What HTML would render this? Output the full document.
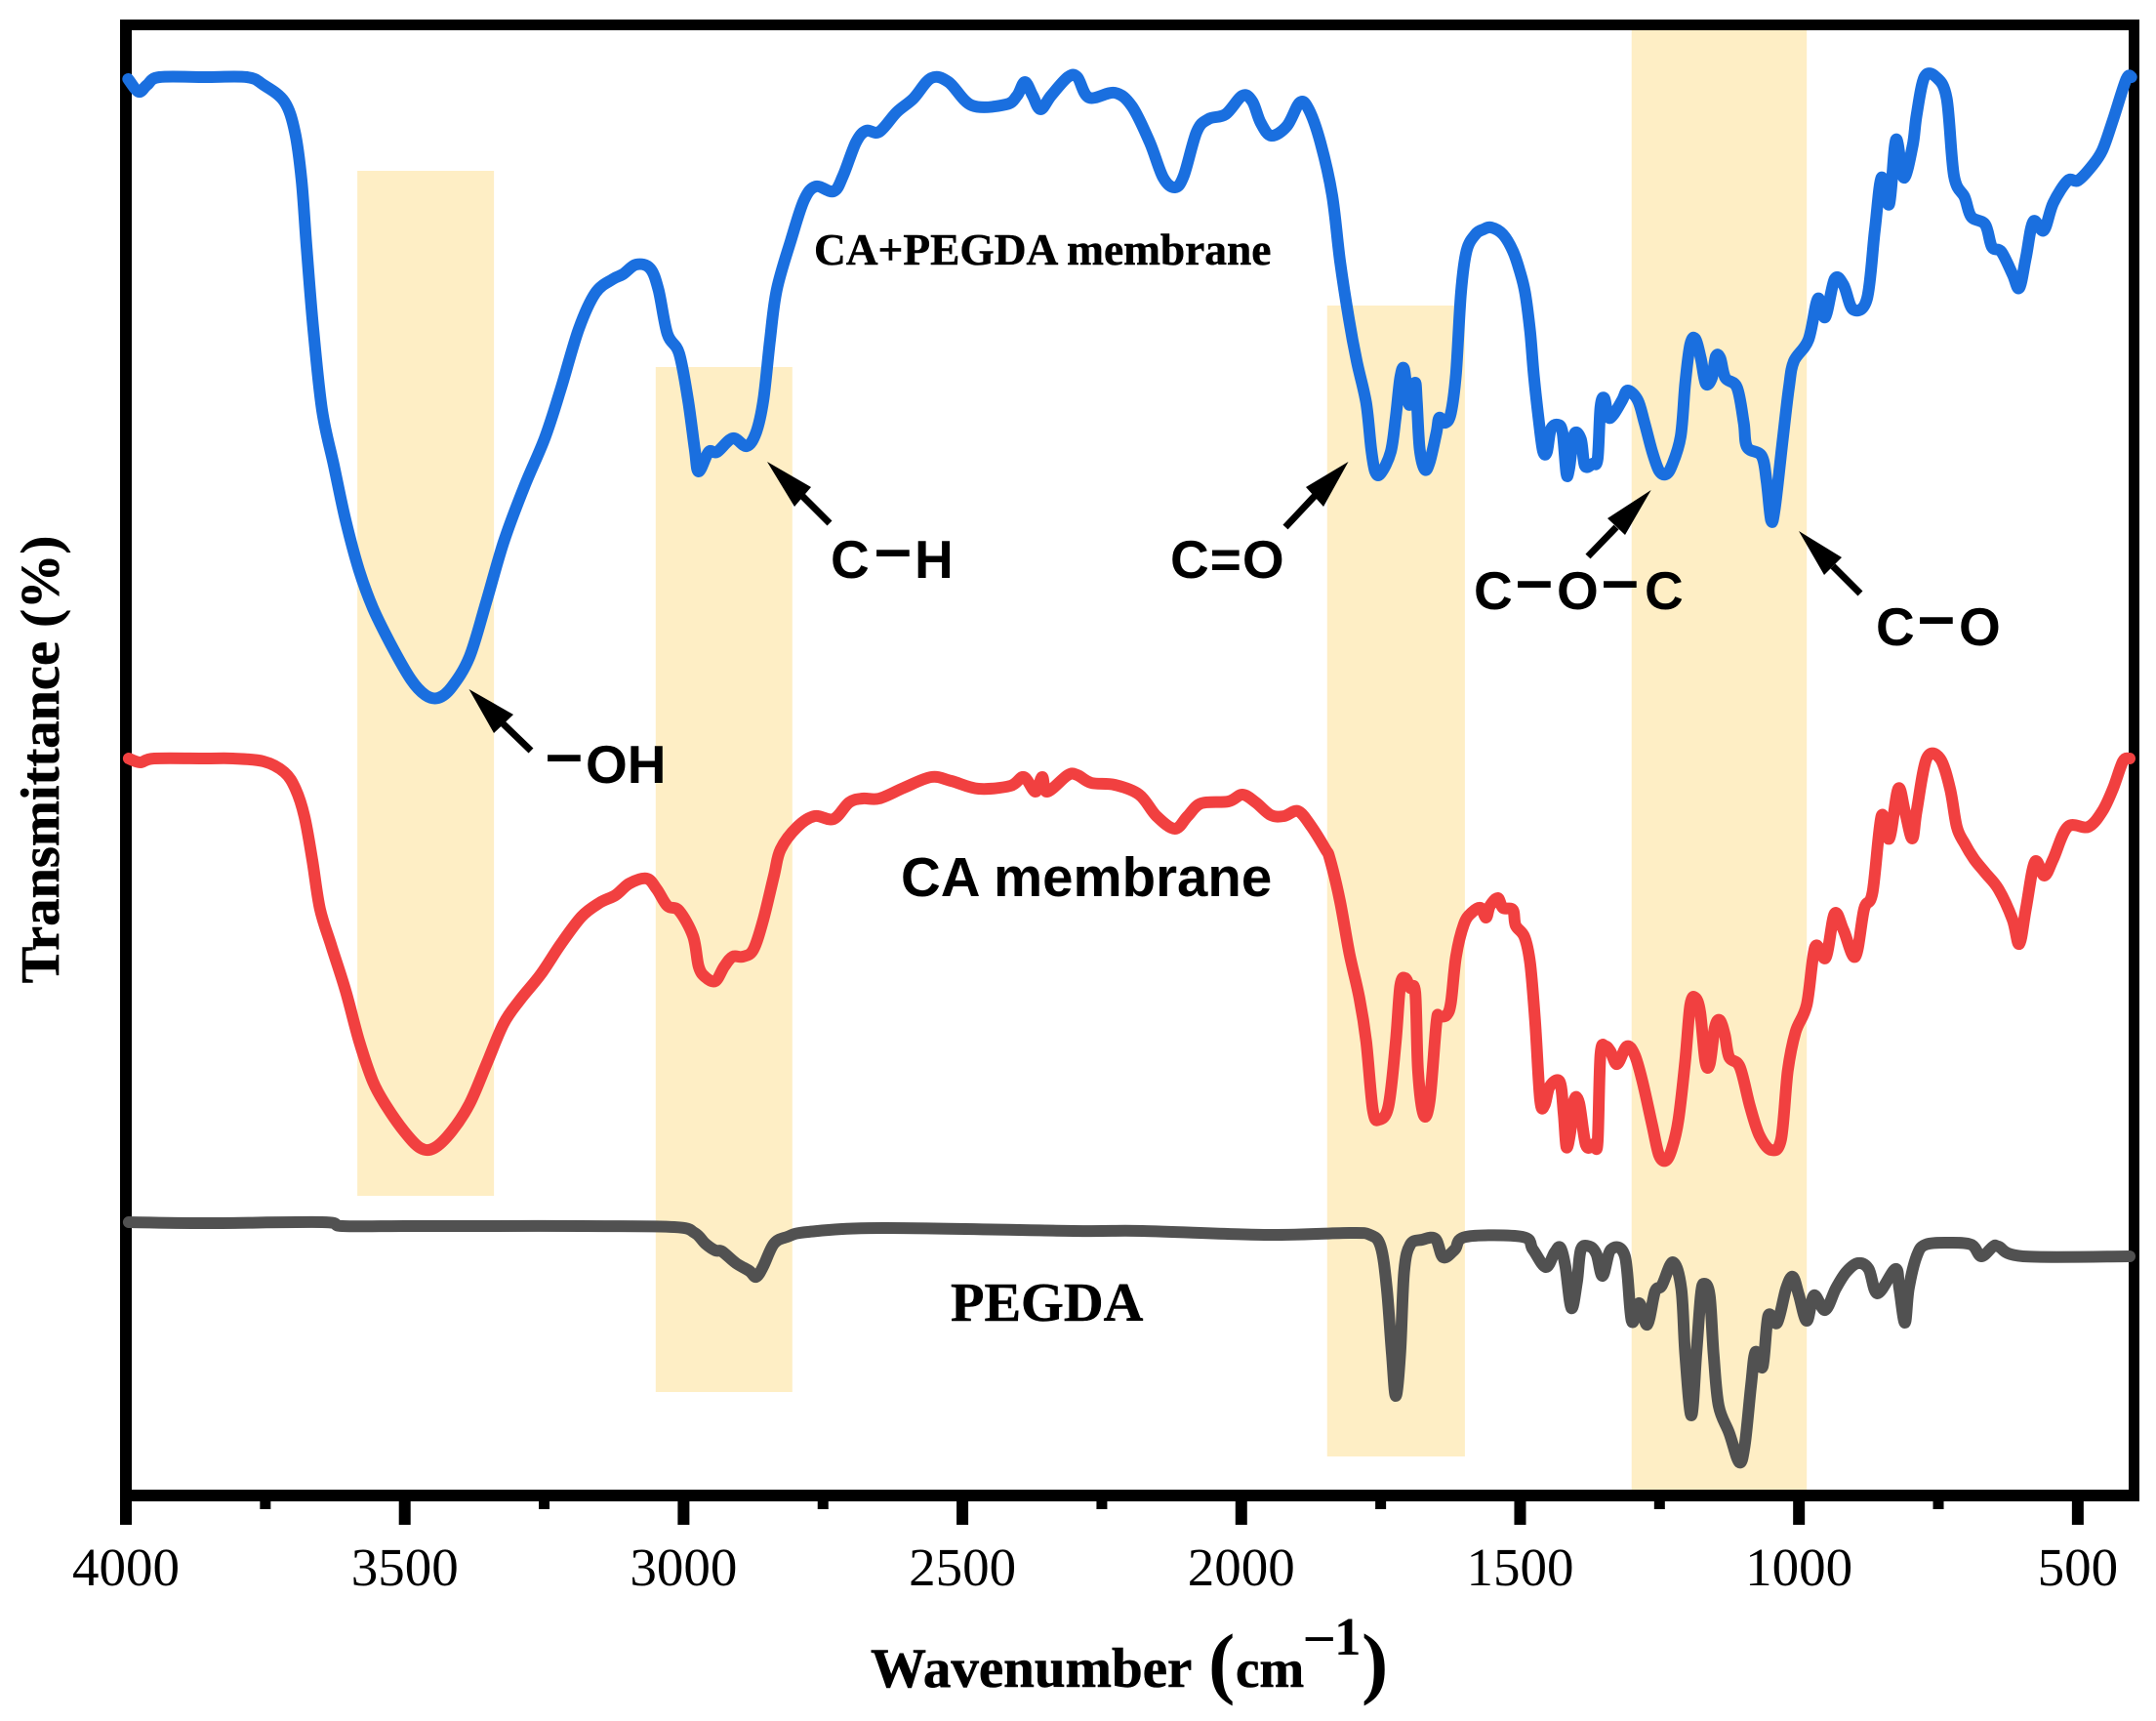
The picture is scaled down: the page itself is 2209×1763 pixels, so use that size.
<!DOCTYPE html>
<html lang="en">
<head>
<meta charset="utf-8">
<title>FTIR spectra</title>
<style>
html,body{margin:0;padding:0;background:#fff;width:2209px;height:1763px;overflow:hidden}
svg{display:block}
.serif{font-family:"Liberation Serif",serif}
.sans{font-family:"Liberation Sans",sans-serif;font-weight:700}
.bold{font-weight:700}
.atom{font-family:"Liberation Sans",sans-serif;font-weight:700;font-size:55px;fill:#000}
.bond{font-family:"Liberation Sans",sans-serif;font-weight:700;font-size:68px;fill:#000}
</style>
</head>
<body>
<svg id="chart" xmlns="http://www.w3.org/2000/svg" width="2209" height="1763" viewBox="0 0 2209 1763">
  <rect x="0" y="0" width="2209" height="1763" fill="#ffffff"/>
  <g id="bands"></g>
  <g id="frame">
    <rect x="123" y="20" width="12" height="1542" fill="#000"/>
    <rect x="123" y="20" width="2069" height="11" fill="#000"/>
    <rect x="2181" y="20" width="11" height="1518" fill="#000"/>
    <rect x="123" y="1526" width="2069" height="12" fill="#000"/>
  </g>
  <g id="ticks"></g>
  <g id="series"></g>

  <text class="serif bold" font-size="56.5" text-anchor="middle" stroke="#000" stroke-width="0.6" transform="translate(60 778) rotate(-90)">Transmittance (%)</text>
  <g class="serif bold" fill="#000">
    <text x="892" y="1728" font-size="57" stroke="#000" stroke-width="0.6">Wavenumber</text>
    <text x="1238" y="1730" font-size="82">(</text>
    <text x="1266" y="1728" font-size="55" stroke="#000" stroke-width="0.6">cm</text>
    <text x="1338" y="1692" font-size="55">–</text>
    <text x="1367" y="1695" font-size="55">1</text>
    <text x="1395" y="1730" font-size="82">)</text>
  </g>

  <text class="serif bold" x="834" y="271" font-size="45.4" stroke="#000" stroke-width="0.5">CA+PEGDA membrane</text>
  <text class="sans" x="923" y="918" font-size="56.4">CA membrane</text>
  <text class="serif bold" x="974" y="1353" font-size="56.4" stroke="#000" stroke-width="0.5">PEGDA</text>

  <g>
    <line x1="544" y1="769" x2="515" y2="741" stroke="#000" stroke-width="7"/>
    <polygon points="480.5,706 526,732 506,751" fill="#000"/>
    <text class="bond" x="559" y="795">–</text>
    <text class="atom" x="600" y="802">OH</text>
  </g>
  <g>
    <line x1="850" y1="536" x2="822" y2="508" stroke="#000" stroke-width="7"/>
    <polygon points="786,473 831,499 814,519" fill="#000"/>
    <text class="atom" x="851" y="592">C</text>
    <text class="bond" x="896" y="585">–</text>
    <text class="atom" x="937" y="592">H</text>
  </g>
  <g>
    <line x1="1317" y1="540" x2="1347" y2="508" stroke="#000" stroke-width="7"/>
    <polygon points="1381.5,473 1338,499 1356,519" fill="#000"/>
    <text class="atom" x="1199" y="592" letter-spacing="1">C=O</text>
  </g>
  <g>
    <line x1="1627" y1="570" x2="1656" y2="540" stroke="#000" stroke-width="7"/>
    <polygon points="1691.7,502 1647,531 1665,548" fill="#000"/>
    <text class="atom" x="1510" y="624">C</text>
    <text class="bond" x="1553" y="617">–</text>
    <text class="atom" x="1595" y="624">O</text>
    <text class="bond" x="1641" y="617">–</text>
    <text class="atom" x="1685" y="624">C</text>
  </g>
  <g>
    <line x1="1906" y1="608" x2="1878" y2="580" stroke="#000" stroke-width="7"/>
    <polygon points="1843,544 1887,571 1869,589" fill="#000"/>
    <text class="atom" x="1922" y="661">C</text>
    <text class="bond" x="1965" y="654">–</text>
    <text class="atom" x="2007" y="661">O</text>
  </g>
</svg>

<script>
// ---- Data (wavenumber in cm-1, transmittance in arbitrary offset units) ----
const majorTicks = [4000, 3500, 3000, 2500, 2000, 1500, 1000, 500];
const minorTicks = [3750, 3250, 2750, 2250, 1750, 1250, 750];
const tickLabels = ["4000", "3500", "3000", "2500", "2000", "1500", "1000", "500"];

const bandHighWavenumber = [3585, 3050, 1846, 1300];
const bandLowWavenumber = [3340, 2805, 1599, 986];
const bandTopValue = [1357, 1156, 1219, 1501];
const bandBottomValue = [307, 106, 40, 6];

const caPegdaWavenumber = [3996,3977,3962,3940,3858,3783,3753,3716,3697,3685,3676,3664,3648,3627,3606,3582,3557,3526,3489,3463,3440,3416,3384,3354,3323,3286,3249,3220,3188,3158,3127,3109,3085,3060,3045,3029,3008,2992,2980,2973,2955,2940,2912,2887,2870,2857,2845,2833,2808,2784,2763,2731,2714,2691,2673,2649,2618,2588,2556,2525,2483,2422,2402,2388,2374,2360,2341,2311,2294,2273,2227,2196,2164,2140,2119,2103,2080,2059,2028,1998,1980,1965,1946,1918,1895,1879,1858,1837,1823,1807,1793,1776,1767,1760,1750,1732,1723,1715,1708,1701,1695,1688,1685,1680,1671,1662,1650,1645,1634,1624,1615,1606,1596,1580,1566,1552,1531,1513,1501,1491,1482,1475,1466,1459,1452,1445,1433,1424,1417,1412,1403,1391,1384,1370,1361,1356,1349,1342,1333,1317,1307,1289,1277,1263,1251,1239,1228,1212,1204,1195,1186,1176,1167,1156,1149,1141,1132,1111,1099,1093,1067,1058,1050,1043,1029,1018,1009,983,966,953,936,920,903,878,864,852,838,826,812,796,789,775,754,735,722,703,691,666,654,637,617,605,593,580,561,544,518,500,476,456,437,413,404];
const caPegdaValue = [1451,1438,1445,1453,1453,1453,1445,1428,1397,1347,1279,1195,1111,1055,999,948,909,873,836,820,817,828,859,915,976,1033,1083,1134,1195,1232,1246,1251,1261,1257,1235,1190,1170,1122,1072,1049,1069,1069,1083,1075,1089,1122,1184,1235,1285,1327,1341,1336,1352,1386,1398,1397,1417,1431,1452,1448,1424,1425,1434,1448,1434,1420,1434,1453,1453,1432,1437,1423,1386,1350,1340,1352,1397,1410,1415,1434,1428,1406,1393,1403,1427,1420,1386,1332,1265,1205,1162,1119,1072,1049,1047,1069,1105,1145,1154,1121,1120,1140,1119,1072,1051,1059,1089,1104,1099,1109,1149,1232,1275,1292,1297,1299,1292,1275,1255,1232,1192,1145,1099,1070,1069,1092,1097,1089,1047,1052,1087,1082,1055,1057,1062,1115,1124,1105,1107,1122,1132,1122,1099,1069,1050,1046,1055,1085,1139,1179,1185,1165,1139,1145,1167,1165,1145,1135,1099,1074,1065,1039,999,1012,1082,1135,1162,1184,1226,1207,1246,1240,1215,1226,1296,1350,1323,1389,1350,1383,1414,1453,1453,1431,1352,1330,1310,1302,1279,1274,1251,1237,1268,1305,1296,1324,1347,1347,1361,1378,1409,1451,1453];

const caWavenumber = [3995,3974,3949,3858,3808,3753,3716,3696,3680,3666,3652,3631,3606,3582,3557,3533,3501,3472,3447,3416,3384,3354,3323,3293,3256,3220,3183,3151,3122,3097,3066,3048,3029,3008,2983,2973,2961,2943,2927,2912,2894,2875,2857,2838,2826,2796,2765,2731,2703,2679,2649,2605,2556,2520,2471,2414,2390,2369,2357,2348,2311,2294,2269,2227,2183,2152,2119,2096,2072,2023,1998,1974,1947,1923,1898,1874,1849,1841,1823,1806,1788,1776,1764,1753,1736,1723,1715,1706,1697,1688,1683,1673,1662,1650,1645,1632,1624,1615,1601,1587,1571,1561,1554,1540,1531,1513,1508,1492,1482,1473,1464,1456,1447,1429,1422,1417,1410,1403,1394,1382,1368,1361,1356,1347,1338,1326,1309,1295,1281,1263,1251,1239,1228,1216,1204,1195,1186,1177,1168,1160,1151,1142,1133,1125,1106,1088,1071,1050,1032,1020,1006,986,971,952,936,920,899,883,868,852,838,822,810,797,789,771,747,729,717,703,686,666,642,617,605,593,577,560,544,518,481,456,437,419,407];
const caValue = [755,751,755,755,755,752,741,724,696,652,601,562,517,466,424,399,373,356,356,373,401,441,483,508,534,565,593,607,615,627,632,621,604,599,573,542,531,527,542,552,552,559,590,635,662,685,696,693,710,714,714,725,736,732,724,727,736,721,736,721,738,738,730,728,718,696,683,696,709,711,718,710,697,696,701,685,662,652,609,555,509,465,395,385,399,465,522,530,520,515,435,390,405,485,490,492,505,552,585,597,602,592,604,612,602,600,584,572,545,485,405,400,419,424,392,357,372,405,402,359,360,362,452,460,455,442,460,452,425,379,349,343,355,385,445,502,510,495,445,442,479,487,472,449,439,399,369,354,365,435,475,503,562,551,596,579,552,601,618,696,673,724,701,673,701,755,755,724,685,668,652,638,621,590,565,601,649,635,652,685,685,701,724,752,755];

const pegdaWavenumber = [3995,3858,3648,3612,3501,3366,3183,3017,2980,2961,2943,2931,2906,2882,2870,2857,2838,2814,2777,2642,2301,2177,1954,1806,1769,1750,1739,1730,1723,1715,1708,1697,1676,1652,1638,1617,1597,1496,1477,1454,1438,1428,1419,1408,1398,1391,1375,1363,1352,1337,1312,1300,1286,1272,1258,1246,1226,1211,1204,1193,1184,1176,1170,1160,1153,1144,1125,1107,1097,1086,1078,1065,1055,1039,1023,1011,1000,986,973,953,934,915,894,875,859,827,820,810,803,789,773,731,691,673,652,642,598,407];
const pegdaValue = [280,279,280,276,276,276,276,275,269,258,251,250,238,230,224,235,258,265,270,274,271,271,267,269,267,255,212,145,102,145,229,257,262,263,244,252,265,265,252,234,249,254,235,192,219,252,255,247,225,252,245,179,197,175,209,215,239,212,145,82,145,205,217,205,145,92,64,34,52,112,147,132,184,177,212,224,205,179,205,190,212,229,238,232,207,232,212,177,212,245,257,259,257,245,255,255,245,245];

// ---- Axis functions ----
function xScale(w) { return 129 + (4000 - w) * (2186 - 129) / (4000 - 400); }
function yScale(v) { return 1532 - v; }

const NS = "http://www.w3.org/2000/svg";
const bandsGroup = document.getElementById("bands");
const ticksGroup = document.getElementById("ticks");
const seriesGroup = document.getElementById("series");

// Highlight bands
bandHighWavenumber.forEach(function (hi, i) {
  const r = document.createElementNS(NS, "rect");
  
  
  r.setAttribute("x", xScale(hi));
  r.setAttribute("width", xScale(bandLowWavenumber[i]) - xScale(hi));
  r.setAttribute("y", yScale(bandTopValue[i]));
  r.setAttribute("height", yScale(bandBottomValue[i]) - yScale(bandTopValue[i]));
  r.setAttribute("fill", "#feeec5");
  bandsGroup.appendChild(r);
});

// Ticks and labels
majorTicks.forEach(function (w, i) {
  const t = document.createElementNS(NS, "rect");
  
  
  t.setAttribute("x", xScale(w) - 6);
  t.setAttribute("y", 1526);
  t.setAttribute("width", 12);
  t.setAttribute("height", 36);
  t.setAttribute("fill", "#000");
  ticksGroup.appendChild(t);
  const l = document.createElementNS(NS, "text");
  
  
  l.setAttribute("x", xScale(w));
  l.setAttribute("y", 1624);
  l.setAttribute("text-anchor", "middle");
  l.setAttribute("font-size", "55");
  l.setAttribute("font-family", '"Liberation Serif", serif');
  l.textContent = tickLabels[i];
  ticksGroup.appendChild(l);
});
minorTicks.forEach(function (w) {
  const t = document.createElementNS(NS, "rect");
  
  
  t.setAttribute("x", xScale(w) - 5.5);
  t.setAttribute("y", 1526);
  t.setAttribute("width", 11);
  t.setAttribute("height", 20);
  t.setAttribute("fill", "#000");
  ticksGroup.appendChild(t);
});

// Series: smooth curve through every data point
function linePath(ws, vs) {
  const px = ws.map(xScale);
  const py = vs.map(yScale);
  let d = "M" + px[0].toFixed(1) + " " + py[0].toFixed(1);
  for (let i = 0; i < px.length - 1; i++) {
    const a = Math.max(i - 1, 0);
    const b = Math.min(i + 2, px.length - 1);
    const c1x = px[i] + (px[i + 1] - px[a]) / 6;
    const c1y = py[i] + (py[i + 1] - py[a]) / 6;
    const c2x = px[i + 1] - (px[b] - px[i]) / 6;
    const c2y = py[i + 1] - (py[b] - py[i]) / 6;
    d += "C" + c1x.toFixed(1) + " " + c1y.toFixed(1) + " " + c2x.toFixed(1) + " " + c2y.toFixed(1) + " " + px[i + 1].toFixed(1) + " " + py[i + 1].toFixed(1);
  }
  return d;
}

const pegdaLine = document.createElementNS(NS, "path");


pegdaLine.setAttribute("d", linePath(pegdaWavenumber, pegdaValue));
pegdaLine.setAttribute("stroke", "#515151");
seriesGroup.appendChild(pegdaLine);

const caLine = document.createElementNS(NS, "path");


caLine.setAttribute("d", linePath(caWavenumber, caValue));
caLine.setAttribute("stroke", "#f14040");
seriesGroup.appendChild(caLine);

const caPegdaLine = document.createElementNS(NS, "path");


caPegdaLine.setAttribute("d", linePath(caPegdaWavenumber, caPegdaValue));
caPegdaLine.setAttribute("stroke", "#1a6fdf");
seriesGroup.appendChild(caPegdaLine);

[pegdaLine, caLine, caPegdaLine].forEach(function (p) {
  p.setAttribute("fill", "none");
  p.setAttribute("stroke-width", "12");
  p.setAttribute("stroke-linejoin", "round");
  p.setAttribute("stroke-linecap", "round");
});
</script>
</body>
</html>
